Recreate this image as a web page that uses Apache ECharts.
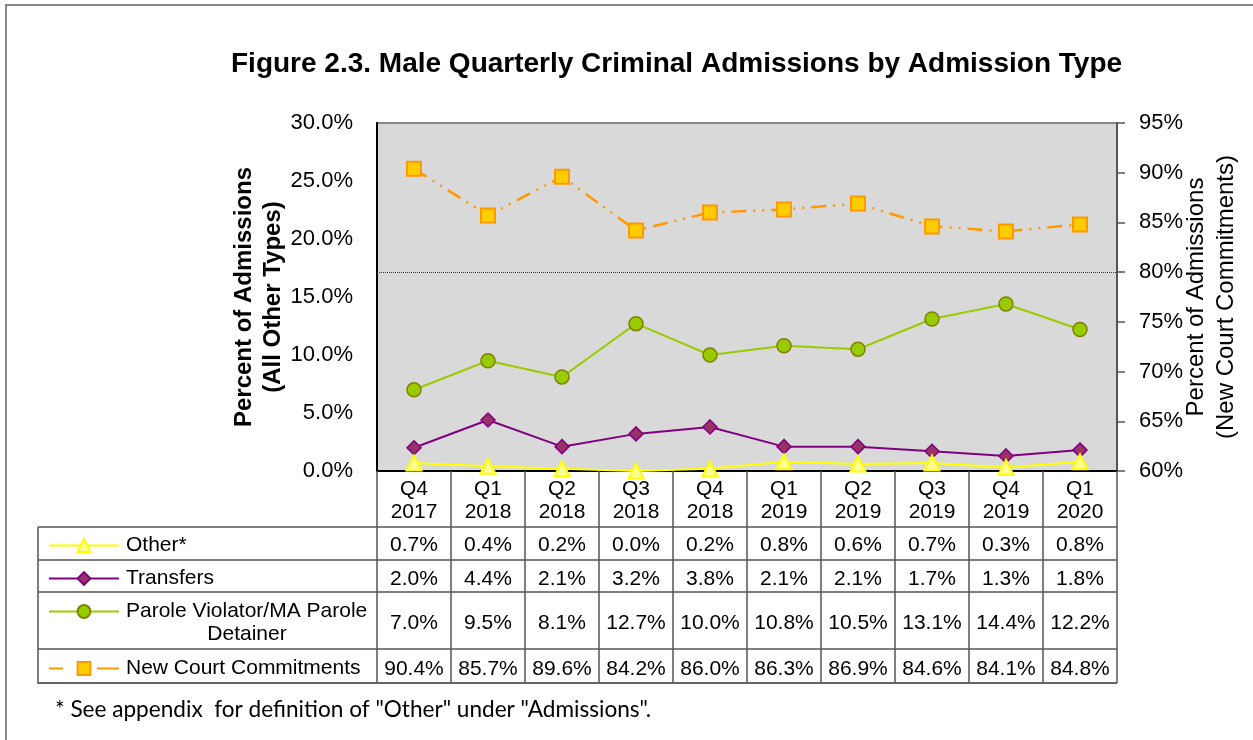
<!DOCTYPE html>
<html>
<head>
<meta charset="utf-8">
<script src="https://cdn.jsdelivr.net/npm/echarts@6/dist/echarts.min.js"></script>
<style>html,body{margin:0;padding:0;background:#fff}#c{width:1253px;height:740px}</style>
</head>
<body>
<div id="c"></div>
<script>
const quarters = ['Q4', 'Q1', 'Q2', 'Q3', 'Q4', 'Q1', 'Q2', 'Q3', 'Q4', 'Q1'];
const years = ['2017', '2018', '2018', '2018', '2018', '2019', '2019', '2019', '2019', '2020'];
const other = [0.7, 0.4, 0.2, 0.0, 0.2, 0.8, 0.6, 0.7, 0.3, 0.8];
const transfers = [2.0, 4.4, 2.1, 3.2, 3.8, 2.1, 2.1, 1.7, 1.3, 1.8];
const parole = [7.0, 9.5, 8.1, 12.7, 10.0, 10.8, 10.5, 13.1, 14.4, 12.2];
const newCourt = [90.4, 85.7, 89.6, 84.2, 86.0, 86.3, 86.9, 84.6, 84.1, 84.8];
const seriesNames = ['Other*', 'Transfers', 'Parole Violator/MA Parole Detainer', 'New Court Commitments'];
const breakLevel = 80;

const FONT = 'Liberation Sans';
const categories = quarters.map((q, i) => q + ' ' + years[i]);
const chart = echarts.init(document.getElementById('c'), null, {renderer: 'canvas'});

const lineColor = '#555';
function hline(y, x1, x2) {
  return {type: 'line', silent: true, z: 5, shape: {x1: x1, y1: y, x2: x2, y2: y}, style: {stroke: lineColor, lineWidth: 1.5}};
}

function legendAt(item, top, label) {
  return {
    data: [item], left: 48, top: top, orient: 'horizontal',
    itemWidth: 70, itemHeight: 16, itemGap: 0, selectedMode: false,
    padding: 0,
    formatter: () => label,
    textStyle: {fontFamily: FONT, fontSize: 21, color: '#000', padding: [0, 0, 0, 2]}
  };
}

const T = 21;
const option = {
  animation: false,
  backgroundColor: '#fff',
  title: {
    text: 'Figure 2.3. Male Quarterly Criminal Admissions by Admission Type',
    left: 226, top: 45,
    textStyle: {fontFamily: FONT, fontSize: 28, fontWeight: 'bold', color: '#000'}
  },
  legend: [
    legendAt(seriesNames[0], 535, 'Other*'),
    legendAt(seriesNames[1], 568, 'Transfers'),
    legendAt(seriesNames[2], 601, 'Parole Violator/MA Parole'),
    legendAt({name: seriesNames[3], lineStyle: {type: [14, 34, 30]}}, 658, 'New Court Commitments')
  ],
  grid: {
    left: 377, right: 136, top: 123, bottom: 269,
    containLabel: false, outerBoundsMode: 'none',
    show: true, backgroundColor: '#d9d9d9', borderColor: '#888', borderWidth: 2
  },
  xAxis: {
    type: 'category', data: categories, boundaryGap: true,
    axisLine: {show: true, lineStyle: {color: '#000', width: 2}},
    axisTick: {show: true, alignWithLabel: false, length: 212, lineStyle: {color: lineColor, width: 1.5}},
    splitLine: {show: false},
    axisLabel: {
      interval: 0, margin: 7, color: '#000', fontFamily: FONT, fontSize: T,
      formatter: (v, i) => [
        '{a|' + quarters[i] + '}',
        '{b|' + years[i] + '}',
        '{c|' + other[i].toFixed(1) + '%}',
        '{d|' + transfers[i].toFixed(1) + '%}',
        '{e|' + parole[i].toFixed(1) + '%}',
        '{f|' + newCourt[i].toFixed(1) + '%}'
      ].join('\n'),
      rich: {
        a: {fontFamily: FONT, fontSize: T, lineHeight: 22, color: '#000'},
        b: {fontFamily: FONT, fontSize: T, lineHeight: 24, color: '#000'},
        c: {fontFamily: FONT, fontSize: T, lineHeight: 43, color: '#000'},
        d: {fontFamily: FONT, fontSize: T, lineHeight: 24, color: '#000'},
        e: {fontFamily: FONT, fontSize: T, lineHeight: 65, color: '#000'},
        f: {fontFamily: FONT, fontSize: T, lineHeight: 26, color: '#000'}
      }
    }
  },
  yAxis: [
    {
      type: 'value', min: 0, max: 30, interval: 5, position: 'left',
      name: 'Percent of Admissions\n(All Other Types)', nameLocation: 'middle', nameGap: 89,
      nameMoveOverlap: false,
      nameTextStyle: {fontFamily: FONT, fontSize: 24, fontWeight: 'bold', color: '#000', lineHeight: 29},
      axisLine: {show: true, lineStyle: {color: '#000', width: 2}},
      axisTick: {show: false},
      splitLine: {show: false},
      axisLabel: {margin: 24, color: '#000', fontFamily: FONT, fontSize: 22, formatter: v => v.toFixed(1) + '%'}
    },
    {
      type: 'value', min: 60, max: 95, interval: 5, position: 'right',
      name: 'Percent of Admissions\n(New Court Commitments)', nameLocation: 'middle', nameGap: 64, nameRotate: 90,
      nameMoveOverlap: false,
      nameTextStyle: {fontFamily: FONT, fontSize: 24, color: '#000', lineHeight: 30},
      axisLine: {show: true, lineStyle: {color: '#555', width: 2}},
      axisTick: {show: true, inside: false, length: 8, lineStyle: {color: '#555', width: 1.5}},
      splitLine: {show: false},
      axisLabel: {margin: 22, color: '#000', fontFamily: FONT, fontSize: 22, formatter: v => v + '%'}
    }
  ],
  series: [
    {
      name: seriesNames[3], type: 'line', yAxisIndex: 1, data: newCourt, z: 3,
      symbol: 'rect', symbolSize: 14,
      lineStyle: {color: '#ff9900', width: 2.5, type: [15, 7, 2, 7, 2, 7]},
      itemStyle: {color: '#ffcc00', borderColor: '#ff9900', borderWidth: 2},
      markLine: {
        silent: true, symbol: 'none', label: {show: false},
        lineStyle: {color: '#333', width: 1, type: [1, 1]},
        data: [{yAxis: breakLevel}]
      }
    },
    {
      name: seriesNames[2], type: 'line', yAxisIndex: 0, data: parole, z: 4,
      symbol: 'circle', symbolSize: 14,
      lineStyle: {color: '#99cc00', width: 2},
      itemStyle: {color: '#99cc00', borderColor: '#808000', borderWidth: 1.5}
    },
    {
      name: seriesNames[1], type: 'line', yAxisIndex: 0, data: transfers, z: 5,
      symbol: 'diamond', symbolSize: 14,
      lineStyle: {color: '#800080', width: 2},
      itemStyle: {color: '#993366', borderColor: '#800080', borderWidth: 1.5}
    },
    {
      name: seriesNames[0], type: 'line', yAxisIndex: 0, data: other, z: 6,
      symbol: 'triangle', symbolSize: 15,
      lineStyle: {color: '#ffff00', width: 2},
      itemStyle: {color: '#ffff99', borderColor: '#ffff00', borderWidth: 2}
    }
  ],
  graphic: [
    {type: 'rect', silent: true, z: 0, shape: {x: 6, y: 5, width: 1300, height: 800}, style: {fill: 'none', stroke: '#888', lineWidth: 2}},
    hline(527, 38, 1117),
    hline(560, 38, 1117),
    hline(592, 38, 1117),
    hline(649, 38, 1117),
    {type: 'line', silent: true, z: 5, shape: {x1: 38, y1: 683, x2: 1117, y2: 683}, style: {stroke: '#666', lineWidth: 2}},
    {type: 'line', silent: true, z: 5, shape: {x1: 38, y1: 527, x2: 38, y2: 684}, style: {stroke: lineColor, lineWidth: 1.5}},
    {type: 'text', silent: true, z: 5, style: {x: 247, y: 634, text: 'Detainer', textAlign: 'center', textVerticalAlign: 'middle', font: '21px "Liberation Sans"', fill: '#000'}},
    {type: 'text', silent: true, z: 5, style: {x: 55, y: 710, text: '* See appendix  for definition of "Other" under "Admissions".', textVerticalAlign: 'middle', font: '22.6px Lato', fill: '#000'}}
  ]
};
chart.setOption(option);
</script>
</body>
</html>
